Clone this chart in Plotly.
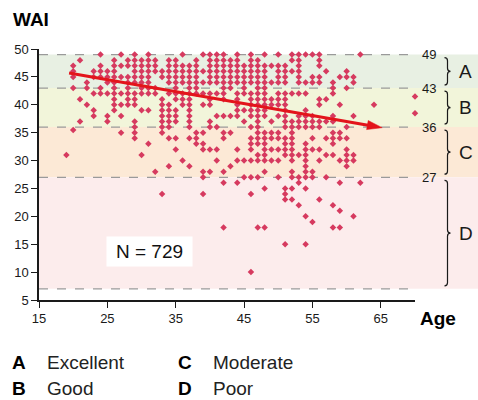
import plotly.graph_objects as go

# ---------------- data ----------------
ages = [19, 20, 21, 22, 23, 24, 25, 26, 27, 28, 29, 30, 31, 32, 33, 34, 35, 36,
        37, 38, 39, 40, 41, 42, 43, 44, 45, 46, 47, 48, 49, 50, 51, 52, 53, 54,
        55, 56, 57, 58, 59, 60, 61, 62, 64, 70]

wai_by_age = [
    [31],
    [47, 46, 45, 43, 35.5],
    [48, 41, 37],
    [44, 43, 40],
    [46, 45, 42, 39, 38],
    [49, 47, 46, 45, 43, 42],
    [46, 45, 44, 42, 38, 37],
    [48, 47, 46, 45, 44, 43, 42, 41, 40, 39],
    [49, 47, 45, 42, 40, 38, 35],
    [48, 47, 45, 44, 43, 42, 41, 40],
    [49, 48, 47, 46, 45, 44, 42, 41, 40, 37, 36, 35, 34],
    [48, 47, 46, 45, 44, 43, 42, 39, 31],
    [49, 48, 47, 46, 45, 44, 43, 42, 39, 33],
    [48, 47, 46, 43, 42, 28],
    [46, 45, 41, 40, 39, 38, 37, 36, 35, 24],
    [48, 47, 46, 45, 44, 42, 40, 39, 38, 37, 36, 34, 29],
    [48, 47, 46, 45, 44, 43, 42, 41, 39, 38, 37, 34, 32],
    [49, 47, 46, 45, 44, 42, 41, 40, 30],
    [47, 46, 45, 44, 43, 42, 41, 40, 39, 38, 37, 36, 34, 29],
    [48, 47, 46, 45, 44, 43, 42, 35, 34, 33],
    [49, 46, 44, 42, 40, 35, 33, 32, 28, 27, 24],
    [49, 48, 47, 46, 45, 44, 42, 41, 40, 37, 36, 32, 28],
    [49, 48, 47, 46, 45, 44, 42, 38, 36, 32, 30],
    [49, 48, 47, 46, 45, 44, 43, 42, 41, 38, 35, 34, 28, 26, 18],
    [48, 47, 46, 45, 44, 43, 38, 35, 29],
    [49, 48, 47, 46, 45, 44, 42, 41, 40, 39, 38, 32, 30, 26],
    [47, 46, 45, 44, 43, 42, 39, 37, 30, 27],
    [49, 48, 47, 46, 45, 44, 42, 41, 40, 39, 38, 36, 34, 33, 32, 30, 27, 24, 10],
    [48, 47, 46, 45, 44, 43, 42, 41, 40, 39, 38, 37, 36, 35, 34, 33, 31, 30, 27, 18],
    [49, 47, 46, 45, 44, 43, 42, 41, 40, 39, 38, 35, 34, 33, 32, 31, 30, 28, 25, 18],
    [47, 44, 41, 40, 37, 35, 34, 32, 30],
    [49, 47, 46, 45, 44, 42, 41, 40, 38, 35, 34, 32, 30, 27],
    [47, 46, 45, 44, 42, 41, 40, 39, 38, 37, 36, 34, 33, 32, 31, 25, 24, 23, 15],
    [49, 48, 46, 42, 37, 36, 35, 34, 33, 32, 31, 30, 28, 27, 25, 23],
    [49, 48, 47, 46, 45, 44, 42, 38, 37, 36, 31, 27, 26, 22],
    [49, 44, 42, 39, 38, 37, 36, 33, 32, 31, 30, 29, 28, 27, 25, 20, 15],
    [49, 45, 44, 38, 37, 36, 34, 32, 28, 27, 19],
    [49, 48, 47, 45, 44, 41, 40, 37, 36, 32, 30, 23],
    [46, 41, 37, 34, 31, 27],
    [44, 43, 42, 38, 37, 35, 34, 33, 31, 22, 18],
    [45, 40, 35, 34, 30, 26, 21, 18],
    [46, 45, 43, 36, 34, 32, 31, 30, 29],
    [45, 44, 38, 31, 30, 20],
    [49, 26],
    [40],
    [41.5, 38.5],
]

band_letters = ["A", "B", "C", "D"]
band_names = ["Excellent", "Good", "Moderate", "Poor"]
band_tops = [49, 43, 36, 27]
band_bottoms = [43, 36, 27, 7]
band_colors = ["#e8f0e3", "#f2f5da", "#fce9d6", "#fcecec"]
threshold_lines = [49, 43, 36, 27, 7]
threshold_labels = [49, 43, 36, 27]

trend_age = [19.4, 65.2]
trend_wai = [45.7, 35.9]
n_total = 729

x_ticks = [15, 25, 35, 45, 55, 65]
y_ticks = [5, 10, 15, 20, 25, 30, 35, 40, 45, 50]
x_range = [15, 70]
y_range = [5, 50]

# ---------------- layout geometry (screen pixels) ----------------
W, H = 478, 400
PLOT_L, PLOT_R, PLOT_T, PLOT_B = 39, 415, 49, 300   # plot box on screen
ML, MR, MT, MB = PLOT_L, W - PLOT_R, PLOT_T, H - PLOT_B
PW, PH = PLOT_R - PLOT_L, PLOT_B - PLOT_T
SX = PW / (x_range[1] - x_range[0])
SY = PH / (y_range[1] - y_range[0])


def xp(px):
    return (px - PLOT_L) / PW


def yp(py):
    return 1 - (py - PLOT_T) / PH


FONT = "Liberation Sans, Arial, Helvetica, sans-serif"
INK = "#1a1a1a"
POINT = "#d63a5f"
RED = "#e3141b"

x_pts, y_pts = [], []
for a, vals in zip(ages, wai_by_age):
    for v in vals:
        x_pts.append(a)
        y_pts.append(v)

fig = go.Figure()

fig.add_trace(go.Scatter(
    x=x_pts, y=y_pts, mode="markers",
    marker=dict(symbol="diamond", size=5, color=POINT, line=dict(width=0)),
    cliponaxis=False, hoverinfo="skip", showlegend=False,
))

# trend arrow: shaft + head computed in pixel space
dxp = (trend_age[1] - trend_age[0]) * SX
dyp = (trend_wai[1] - trend_wai[0]) * SY
L = (dxp ** 2 + dyp ** 2) ** 0.5
ux, uy = dxp / L, dyp / L
head_len, head_half = 15, 4.6
bx = trend_age[1] - head_len * ux / SX
by = trend_wai[1] - head_len * uy / SY
nx, ny = -uy, ux
head_x = [trend_age[1], bx + head_half * nx / SX, bx - head_half * nx / SX, trend_age[1]]
head_y = [trend_wai[1], by + head_half * ny / SY, by - head_half * ny / SY, trend_wai[1]]
shaft_end_x = trend_age[1] - (head_len - 2) * ux / SX
shaft_end_y = trend_wai[1] - (head_len - 2) * uy / SY

fig.add_trace(go.Scatter(
    x=[trend_age[0], shaft_end_x], y=[trend_wai[0], shaft_end_y], mode="lines",
    line=dict(color=RED, width=3), hoverinfo="skip", showlegend=False,
))
fig.add_trace(go.Scatter(
    x=head_x, y=head_y, mode="lines", fill="toself", fillcolor=RED,
    line=dict(color=RED, width=0.5), hoverinfo="skip", showlegend=False,
))

shapes = []
x_right = xp(W)
for top, bot, col in zip(band_tops, band_bottoms, band_colors):
    shapes.append(dict(type="rect", xref="paper", yref="y", x0=0, x1=x_right,
                       y0=bot, y1=top, fillcolor=col, line=dict(width=0), layer="below"))
for v in threshold_lines:
    shapes.append(dict(type="line", xref="paper", yref="y", x0=0, x1=1, y0=v, y1=v,
                       line=dict(color="#9a9a9a", width=1.2, dash="dash"), layer="below"))

# braces
x_hook, x_line, x_tip = xp(444.5), xp(447.5), xp(450.5)
gap, d = 0.55, 0.55
for top, bot in zip(band_tops, band_bottoms):
    yt, yb = top - gap, bot + gap
    ym = (yt + yb) / 2
    path = (f"M {x_hook},{yt} Q {x_line},{yt} {x_line},{yt - d} "
            f"L {x_line},{ym + d} Q {x_line},{ym} {x_tip},{ym} "
            f"Q {x_line},{ym} {x_line},{ym - d} "
            f"L {x_line},{yb + d} Q {x_line},{yb} {x_hook},{yb}")
    shapes.append(dict(type="path", xref="paper", yref="y", path=path,
                       line=dict(color=INK, width=1.2)))

annotations = []
for v in threshold_labels:
    annotations.append(dict(x=xp(438), y=v, xref="paper", yref="y", text=str(v),
                            showarrow=False, xanchor="right", yanchor="middle",
                            font=dict(family=FONT, size=13, color=INK)))
for letter, top, bot in zip(band_letters, band_tops, band_bottoms):
    annotations.append(dict(x=xp(465.5), y=(top + bot) / 2, xref="paper", yref="y",
                            text=letter, showarrow=False, xanchor="center", yanchor="middle",
                            font=dict(family=FONT, size=19, color=INK)))

annotations.append(dict(x=xp(11), y=yp(19), xref="paper", yref="paper", text="<b>WAI</b>",
                        showarrow=False, xanchor="left", yanchor="middle",
                        font=dict(family=FONT, size=19, color="#000")))
annotations.append(dict(x=xp(418), y=yp(318), xref="paper", yref="paper", text="<b>Age</b>",
                        showarrow=False, xanchor="left", yanchor="middle",
                        font=dict(family=FONT, size=19, color="#000")))
annotations.append(dict(x=xp(149), y=yp(251), xref="paper", yref="paper",
                        text=f"N = {n_total}", showarrow=False, xanchor="center", yanchor="middle",
                        bgcolor="white", width=81, height=25, borderpad=2,
                        font=dict(family=FONT, size=19, color="#111")))

# key below the chart: A/B in the first column, C/D in the second
key_letter_x = [10, 10, 176, 176]
key_name_x = [45, 45, 211, 211]
key_row_y = [362, 388, 362, 388]
for lx, nxp, ry, letter, name in zip(key_letter_x, key_name_x, key_row_y,
                                     band_letters, band_names):
    annotations.append(dict(x=xp(lx), y=yp(ry), xref="paper", yref="paper",
                            text=f"<b>{letter}</b>", showarrow=False, xanchor="left",
                            yanchor="middle", font=dict(family=FONT, size=19, color="#000")))
    annotations.append(dict(x=xp(nxp), y=yp(ry), xref="paper", yref="paper",
                            text=name, showarrow=False, xanchor="left",
                            yanchor="middle", font=dict(family=FONT, size=19, color="#222")))

axis_common = dict(showgrid=False, zeroline=False, showline=True, linecolor=INK,
                   linewidth=1.5, ticks="outside", ticklen=6, tickwidth=1.3,
                   tickcolor=INK, tickfont=dict(family=FONT, size=13, color=INK))

fig.update_layout(
    width=W, height=H,
    margin=dict(l=ML, r=MR, t=MT, b=MB, pad=0),
    paper_bgcolor="white", plot_bgcolor="white",
    xaxis=dict(range=x_range, tickvals=x_ticks, **axis_common),
    yaxis=dict(range=y_range, tickvals=y_ticks, **axis_common),
    shapes=shapes, annotations=annotations, showlegend=False,
)

fig.write_html(
    "out.html",
    config={"displayModeBar": False},
    post_script="document.body.style.margin='0';document.body.style.overflow='hidden';",
)
